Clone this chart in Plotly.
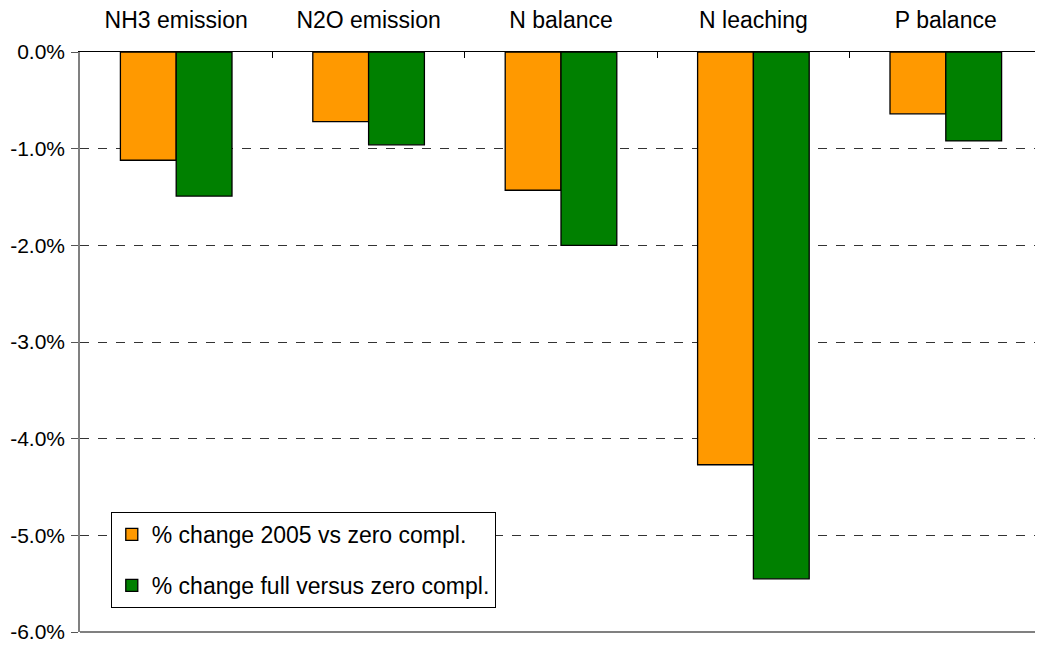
import plotly.graph_objects as go

# Data (fractions, shown as %)
categories = ["NH3 emission", "N2O emission", "N balance", "N leaching", "P balance"]
change_2005 = [-0.0112, -0.0072, -0.0143, -0.0427, -0.0064]
change_full = [-0.0149, -0.0096, -0.0200, -0.0545, -0.0092]
series_names = ["% change 2005 vs zero compl.", "% change full versus zero compl."]
y_ticks = [0, -0.01, -0.02, -0.03, -0.04, -0.05, -0.06]
y_ticklabels = ["0.0%", "-1.0%", "-2.0%", "-3.0%", "-4.0%", "-5.0%", "-6.0%"]

_ORANGE = "#FF9900"
_GREEN = "#008000"
_FONT = "Liberation Sans, Arial, sans-serif"

fig = go.Figure()
for name, vals, color, grp in [
    (series_names[0], change_2005, _ORANGE, "a"),
    (series_names[1], change_full, _GREEN, "b"),
]:
    fig.add_trace(go.Bar(
        x=categories,
        y=vals,
        name=name,
        legendgroup=grp,
        marker=dict(color=color, line=dict(color="black", width=1.3)),
    ))

# page body has an 8px margin, so the figure is shrunk to fit the window
fig.update_layout(
    width=1035,
    height=638,
    margin=dict(l=72, r=1, t=44, b=14),
    plot_bgcolor="white",
    paper_bgcolor="white",
    font=dict(family=_FONT, size=23, color="black"),
    barmode="group",
    bargap=0.42,
    bargroupgap=0,
    showlegend=True,
    legend=dict(
        x=0.032, y=0.207, xanchor="left", yanchor="top",
        bgcolor="white", bordercolor="black", borderwidth=1,
        font=dict(size=23), tracegroupgap=18,
        itemwidth=30,
    ),
)
fig.update_xaxes(
    side="top",
    type="category",
    automargin=False,
    showline=True,
    linecolor="black",
    linewidth=1.3,
    ticks="inside",
    tickson="boundaries",
    ticklen=6,
    tickcolor="black",
    showgrid=False,
    ticklabelstandoff=14,
    tickfont=dict(size=23),
)
fig.update_yaxes(
    range=[-0.06, 0],
    tickvals=y_ticks,
    ticktext=y_ticklabels,
    automargin=False,
    showline=True,
    linecolor="#808080",
    linewidth=1.5,
    mirror=True,
    showgrid=True,
    gridcolor="#333333",
    griddash="dash",
    gridwidth=1,
    zeroline=False,
    ticks="outside",
    ticklen=7,
    tickcolor="#555555",
    ticklabelstandoff=2,
    tickfont=dict(size=21),
)
# bottom frame line
fig.add_shape(type="line", xref="paper", yref="paper", x0=0, x1=1, y0=0, y1=0,
              line=dict(color="#808080", width=2), layer="below")

fig.write_html("out.html")
